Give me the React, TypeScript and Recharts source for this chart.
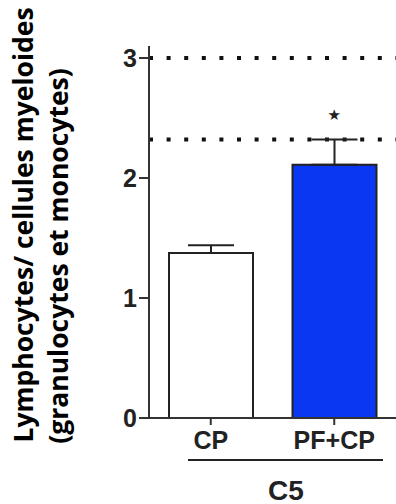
import React from 'react';
import { BarChart, Bar, XAxis, YAxis, ErrorBar, ReferenceLine, ReferenceDot, Cell } from 'recharts';

const categories = ['CP', 'PF+CP'];
const means = [1.375, 2.11];
const errors = [0.065, 0.21];
const fills = ['#ffffff', '#0a37f2'];
const yTicks = [0, 1, 2, 3];
const refLevels = [3, 2.32];
const sigMarks = [{ cat: 'PF+CP', y: 2.53, text: '★' }];
const groupLabel = 'C5';
const yLabelLines = ['Lymphocytes/ cellules myeloides', '(granulocytes et monocytes)'];

const data = categories.map((c, i) => ({ name: c, value: means[i], err: [0, errors[i]] }));

const YLabel = () => (
  <g>
    <text x={33} y={225} transform="rotate(-90 33 225)" textAnchor="middle"
      fontFamily="'Open Sans', sans-serif" fontWeight={700} fontSize={26.5} fill="#000">{yLabelLines[0]}</text>
    <text x={68} y={256} transform="rotate(-90 68 256)" textAnchor="middle"
      fontFamily="'Open Sans', sans-serif" fontWeight={700} fontSize={26.5} fill="#000">{yLabelLines[1]}</text>
  </g>
);

const XGroup = () => (
  <g>
    <line x1={188} x2={383} y1={460} y2={460} stroke="#222" strokeWidth={2} />
    <text x={286} y={490} textAnchor="middle" dominantBaseline="central"
      fontFamily="'Liberation Sans', Arial, sans-serif" fontWeight={700} fontSize={28} fill="#222">{groupLabel}</text>
  </g>
);

export default function App() {
  return (
    <div style={{ position: 'absolute', left: 0, top: 0, width: 396, height: 504, background: '#fff' }}>
      <BarChart width={396} height={504} data={data} margin={{ top: 46, right: 0, bottom: 0, left: 89 }}
        barCategoryGap={20}>
        <XAxis dataKey="name" axisLine={{ stroke: '#333', strokeWidth: 2 }} tickLine={{ stroke: '#333', strokeWidth: 2 }}
          tickSize={7} tickMargin={6} height={86}
          tick={{ fill: '#222', fontSize: 25, fontWeight: 700, fontFamily: "'Liberation Sans', Arial, sans-serif" }}
          label={<XGroup />} />
        <YAxis domain={[0, 3.1]} ticks={yTicks} axisLine={{ stroke: '#333', strokeWidth: 2 }}
          tickLine={{ stroke: '#333', strokeWidth: 2 }} tickSize={10} tickMargin={2} width={60}
          tick={{ fill: '#222', fontSize: 25, fontWeight: 700, fontFamily: "'Liberation Sans', Arial, sans-serif" }}
          label={<YLabel />} />
        {refLevels.map((v) => (
          <ReferenceLine key={v} y={v} stroke="#111" strokeWidth={4} strokeDasharray="4 13.6" />
        ))}
        <Bar dataKey="value" stroke="#222" strokeWidth={2} isAnimationActive={false}>
          {data.map((d, i) => <Cell key={d.name} fill={fills[i]} />)}
          <ErrorBar dataKey="err" width={23} stroke="#222" strokeWidth={2} direction="y" />
        </Bar>
        {sigMarks.map((s) => (
          <ReferenceDot key={s.cat} x={s.cat} y={s.y} r={0}
            label={{ value: s.text, position: 'center', fill: '#222', fontSize: 15, fontFamily: "'DejaVu Sans', sans-serif" }} />
        ))}
      </BarChart>
    </div>
  );
}
